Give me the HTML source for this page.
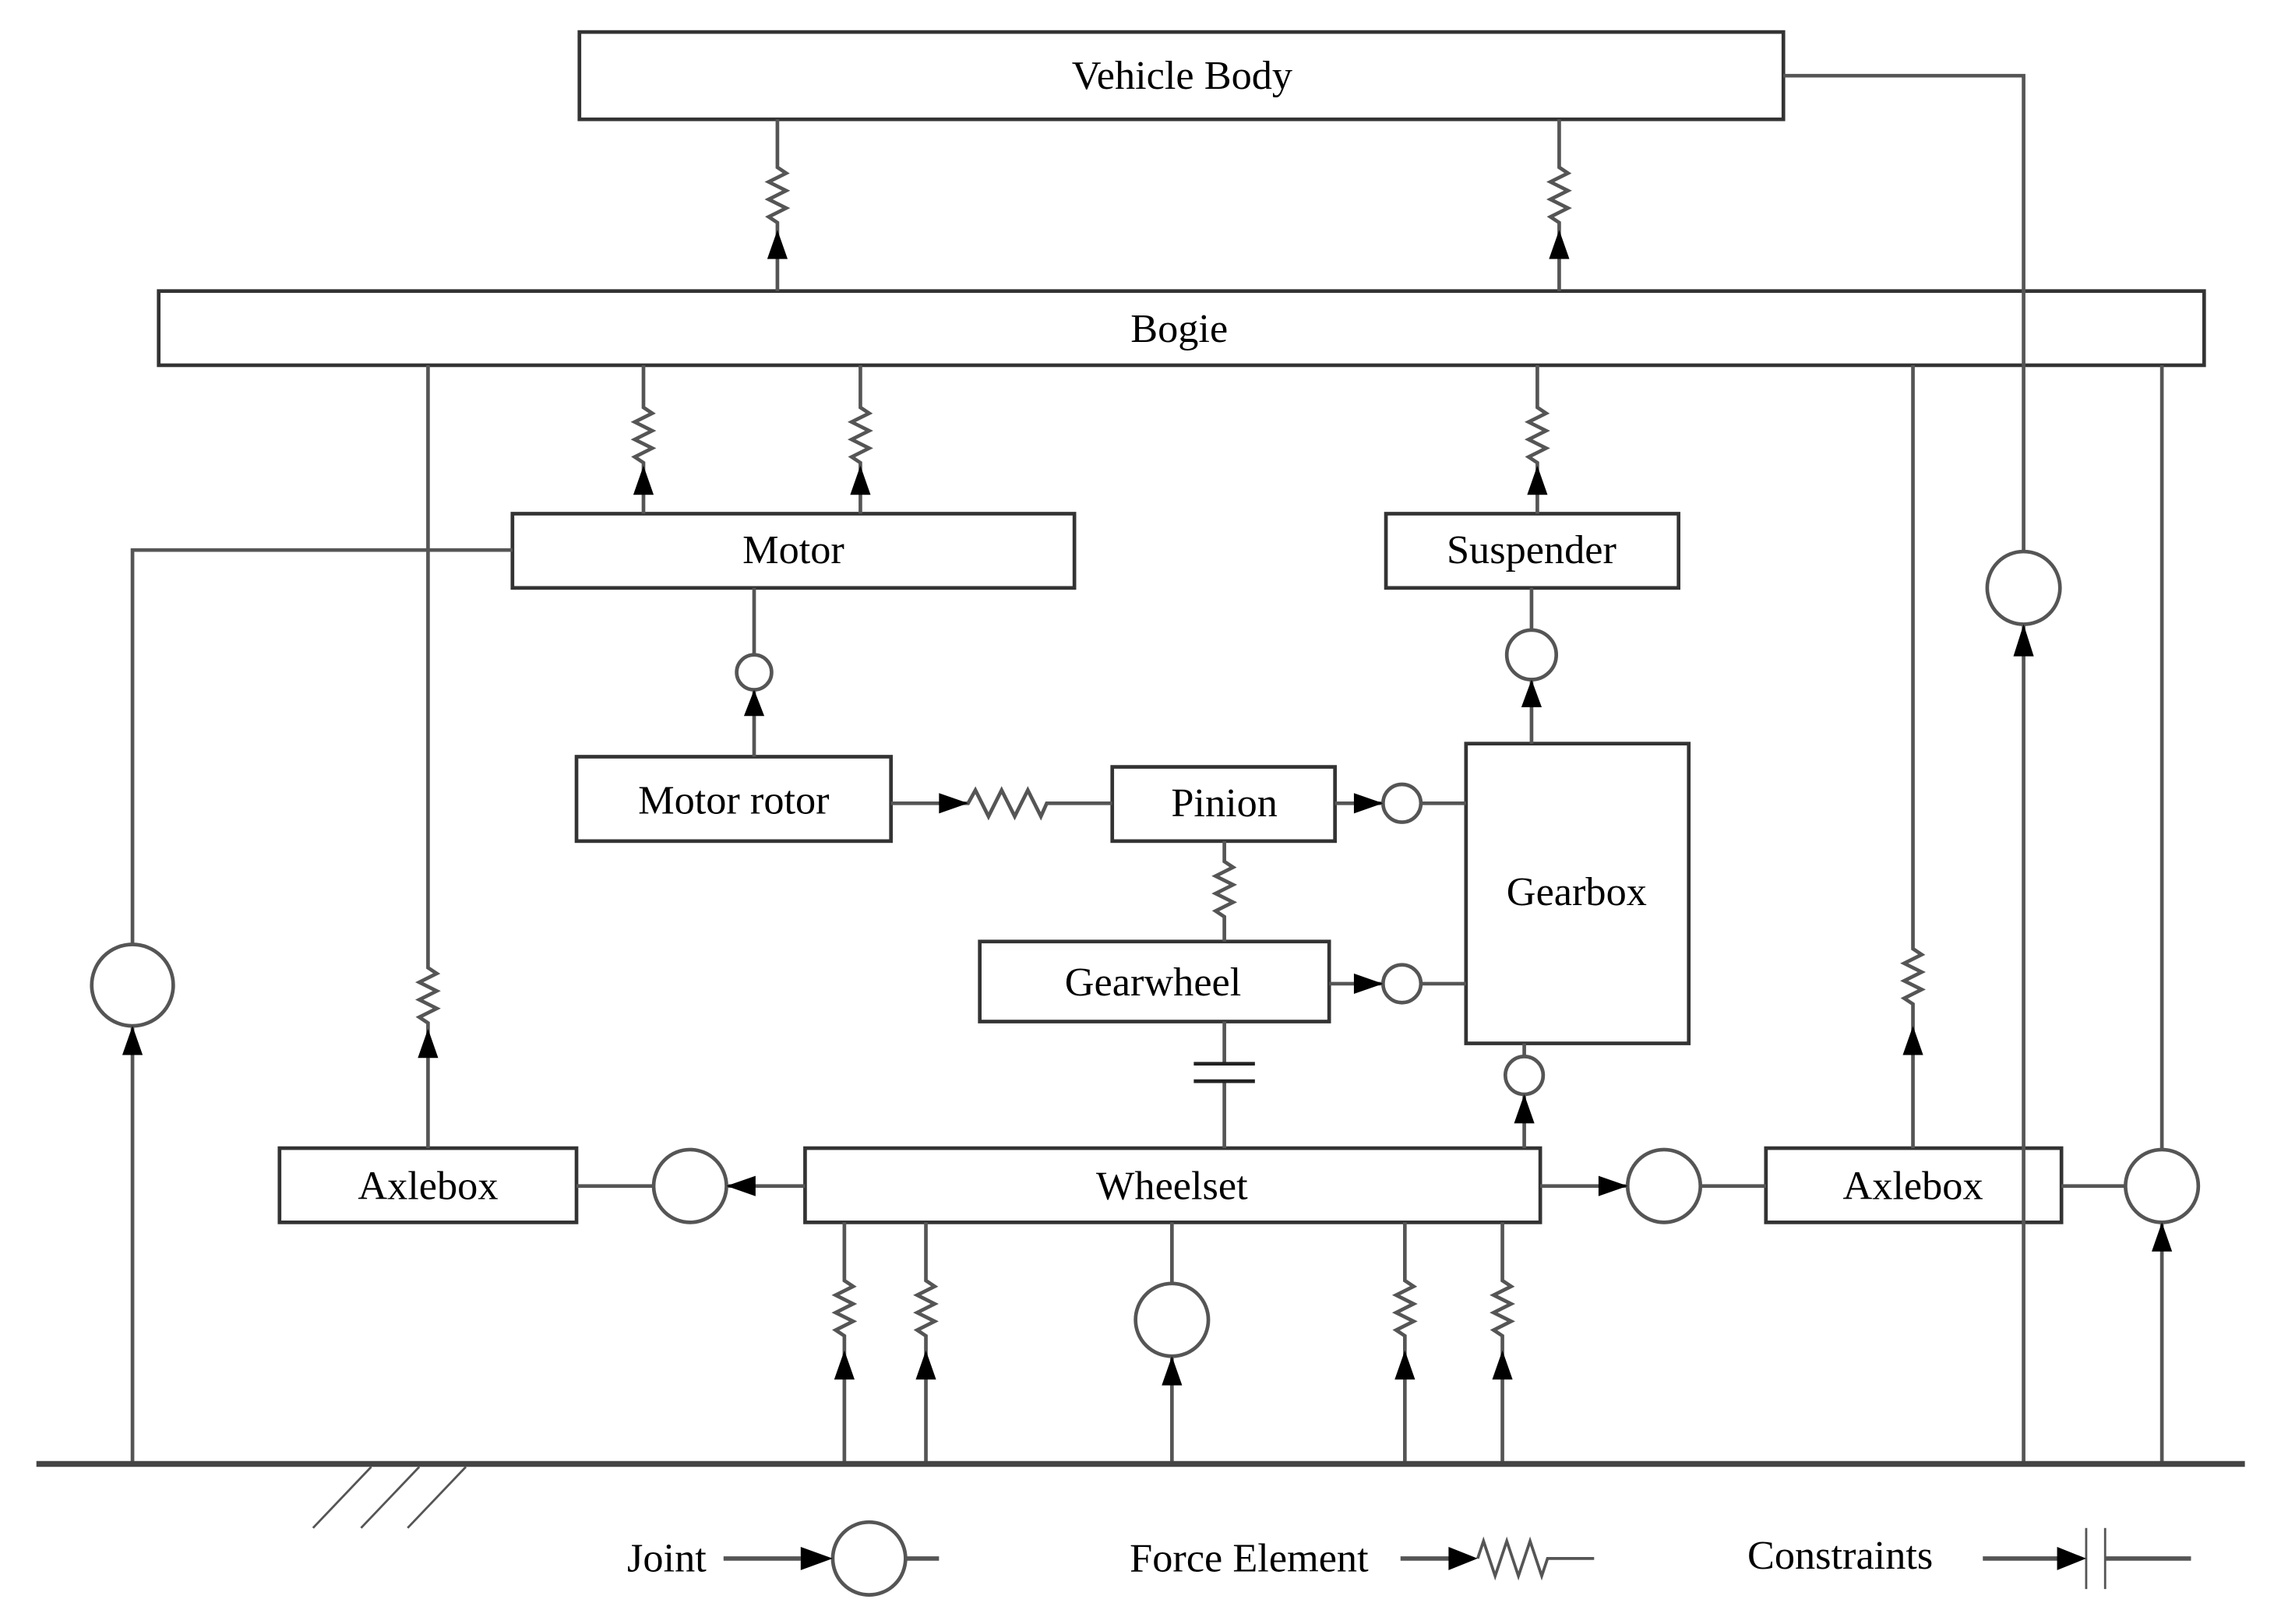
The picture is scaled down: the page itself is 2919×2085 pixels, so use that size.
<!DOCTYPE html>
<html><head><style>html,body{margin:0;padding:0;background:#fff}svg{display:block}</style></head>
<body>
<svg width="2919" height="2085" viewBox="0 0 1562 1116" preserveAspectRatio="none" xmlns="http://www.w3.org/2000/svg">
<g fill="none" stroke="#333" stroke-width="2.5">
<rect x="398" y="22" width="827" height="60"/>
<rect x="109" y="200" width="1405" height="51"/>
<rect x="352" y="353" width="386" height="51"/>
<rect x="952" y="353" width="201" height="51"/>
<rect x="396" y="520" width="216" height="58"/>
<rect x="764" y="527" width="153" height="51"/>
<rect x="1007" y="511" width="153" height="206"/>
<rect x="673" y="647" width="240" height="55"/>
<rect x="553" y="789" width="505" height="51"/>
<rect x="192" y="789" width="204" height="51"/>
<rect x="1213" y="789" width="203" height="51"/>
</g>
<g fill="none" stroke="#555" stroke-width="2.5">
<polyline points="1225,52 1390,52 1390,379"/>
<line x1="1390" y1="429" x2="1390" y2="1005"/>
<circle cx="1390" cy="404" r="25"/>
<path d="M534 82 V115 l6 4 l-12 6 l12 6 l-12 6 l12 6 l-12 6 l6 4 V200"/>
<path d="M1071 82 V115 l6 4 l-12 6 l12 6 l-12 6 l12 6 l-12 6 l6 4 V200"/>
<path d="M442 251 V280 l6 4 l-12 6 l12 6 l-12 6 l12 6 l-12 6 l6 4 V353"/>
<path d="M591 251 V280 l6 4 l-12 6 l12 6 l-12 6 l12 6 l-12 6 l6 4 V353"/>
<path d="M1056 251 V280 l6 4 l-12 6 l12 6 l-12 6 l12 6 l-12 6 l6 4 V353"/>
<path d="M294 251 V665 l6 4 l-12 6 l12 6 l-12 6 l12 6 l-12 6 l6 4 V789"/>
<path d="M1314 251 V652 l6 4 l-12 6 l12 6 l-12 6 l12 6 l-12 6 l6 4 V789"/>
<line x1="1485" y1="251" x2="1485" y2="790"/>
<circle cx="1485" cy="815" r="25"/>
<line x1="1485" y1="840" x2="1485" y2="1005"/>
<line x1="1416" y1="815" x2="1460" y2="815"/>
<polyline points="352,378 91,378 91,649"/>
<circle cx="91" cy="677" r="28"/>
<line x1="91" y1="705" x2="91" y2="1005"/>
<line x1="518" y1="404" x2="518" y2="450"/>
<circle cx="518" cy="462" r="12"/>
<line x1="518" y1="474" x2="518" y2="520"/>
<path d="M612 552 H665 l5 -9 l9 18 l9 -18 l9 18 l9 -18 l9 18 l4 -9 H764"/>
<line x1="917" y1="552" x2="950" y2="552"/>
<circle cx="963" cy="552" r="13"/>
<line x1="976" y1="552" x2="1007" y2="552"/>
<line x1="913" y1="676" x2="950" y2="676"/>
<circle cx="963" cy="676" r="13"/>
<line x1="976" y1="676" x2="1007" y2="676"/>
<path d="M841 578 V592 l6 4 l-12 6 l12 6 l-12 6 l12 6 l-12 6 l6 4 V647"/>
<line x1="841" y1="702" x2="841" y2="731"/>
<line x1="841" y1="743" x2="841" y2="789"/>
<line x1="820" y1="731" x2="862" y2="731" stroke="#222"/>
<line x1="820" y1="743" x2="862" y2="743" stroke="#222"/>
<line x1="1052" y1="511" x2="1052" y2="467"/>
<circle cx="1052" cy="450" r="17"/>
<line x1="1052" y1="433" x2="1052" y2="404"/>
<line x1="1047" y1="789" x2="1047" y2="752"/>
<circle cx="1047" cy="739" r="13"/>
<line x1="1047" y1="726" x2="1047" y2="717"/>
<line x1="553" y1="815" x2="499" y2="815"/>
<circle cx="474" cy="815" r="25"/>
<line x1="449" y1="815" x2="396" y2="815"/>
<line x1="1058" y1="815" x2="1118" y2="815"/>
<circle cx="1143" cy="815" r="25"/>
<line x1="1168" y1="815" x2="1213" y2="815"/>
<path d="M580 840 V880 l6 4 l-12 6 l12 6 l-12 6 l12 6 l-12 6 l6 4 V1005"/>
<path d="M636 840 V880 l6 4 l-12 6 l12 6 l-12 6 l12 6 l-12 6 l6 4 V1005"/>
<path d="M965 840 V880 l6 4 l-12 6 l12 6 l-12 6 l12 6 l-12 6 l6 4 V1005"/>
<path d="M1032 840 V880 l6 4 l-12 6 l12 6 l-12 6 l12 6 l-12 6 l6 4 V1005"/>
<line x1="805" y1="840" x2="805" y2="882"/>
<circle cx="805" cy="907" r="25"/>
<line x1="805" y1="932" x2="805" y2="1005"/>
<line x1="25" y1="1006" x2="1542" y2="1006" stroke="#444" stroke-width="4"/>
<line x1="255" y1="1008" x2="215" y2="1050" stroke-width="1.5"/>
<line x1="288" y1="1008" x2="248" y2="1050" stroke-width="1.5"/>
<line x1="320" y1="1008" x2="280" y2="1050" stroke-width="1.5"/>
<line x1="497" y1="1071" x2="550" y2="1071" stroke-width="3"/>
<circle cx="597" cy="1071" r="25"/>
<line x1="622" y1="1071" x2="645" y2="1071" stroke-width="3"/>
<line x1="962" y1="1071" x2="1000" y2="1071" stroke-width="3"/>
<path d="M1015 1071 l4 -12 l8 24 l8 -24 l8 24 l8 -24 l8 24 l4 -12 H1095" stroke-width="2"/>
<line x1="1362" y1="1071" x2="1415" y2="1071" stroke-width="3"/>
<line x1="1433" y1="1050" x2="1433" y2="1092" stroke-width="1.5"/>
<line x1="1446" y1="1050" x2="1446" y2="1092" stroke-width="1.5"/>
<line x1="1446" y1="1071" x2="1505" y2="1071" stroke-width="3"/>
</g>
<g fill="#000">
<polygon points="534,158 527,178 541,178"/>
<polygon points="1071,158 1064,178 1078,178"/>
<polygon points="442,320 435,340 449,340"/>
<polygon points="591,320 584,340 598,340"/>
<polygon points="1056,320 1049,340 1063,340"/>
<polygon points="294,707 287,727 301,727"/>
<polygon points="1314,705 1307,725 1321,725"/>
<polygon points="1390,429 1383,451 1397,451"/>
<polygon points="1485,840 1478,860 1492,860"/>
<polygon points="91,705 84,725 98,725"/>
<polygon points="518,474 511,492 525,492"/>
<polygon points="1052,467 1045,486 1059,486"/>
<polygon points="1047,752 1040,772 1054,772"/>
<polygon points="580,928 573,948 587,948"/>
<polygon points="636,928 629,948 643,948"/>
<polygon points="965,928 958,948 972,948"/>
<polygon points="1032,928 1025,948 1039,948"/>
<polygon points="805,932 798,952 812,952"/>
<polygon points="665,552 645,545 645,559"/>
<polygon points="950,552 930,545 930,559"/>
<polygon points="950,676 930,669 930,683"/>
<polygon points="1118,815 1098,808 1098,822"/>
<polygon points="572,1071 550,1063 550,1079"/>
<polygon points="1015,1071 995,1063 995,1079"/>
<polygon points="1433,1071 1413,1063 1413,1079"/>
<polygon points="499,815 519,808 519,822"/>
</g>
<g font-family="'Liberation Serif', serif" font-size="28" fill="#000" text-anchor="middle">
<text x="812" y="61">Vehicle Body</text>
<text x="810" y="235">Bogie</text>
<text x="545" y="387">Motor</text>
<text x="1052" y="387">Suspender</text>
<text x="504" y="559">Motor rotor</text>
<text x="841" y="561">Pinion</text>
<text x="1083" y="622">Gearbox</text>
<text x="792" y="684">Gearwheel</text>
<text x="805" y="824">Wheelset</text>
<text x="294" y="824">Axlebox</text>
<text x="1314" y="824">Axlebox</text>
<text x="458" y="1080">Joint</text>
<text x="858" y="1080">Force Element</text>
<text x="1264" y="1078">Constraints</text>
</g>
</svg>
</body></html>
